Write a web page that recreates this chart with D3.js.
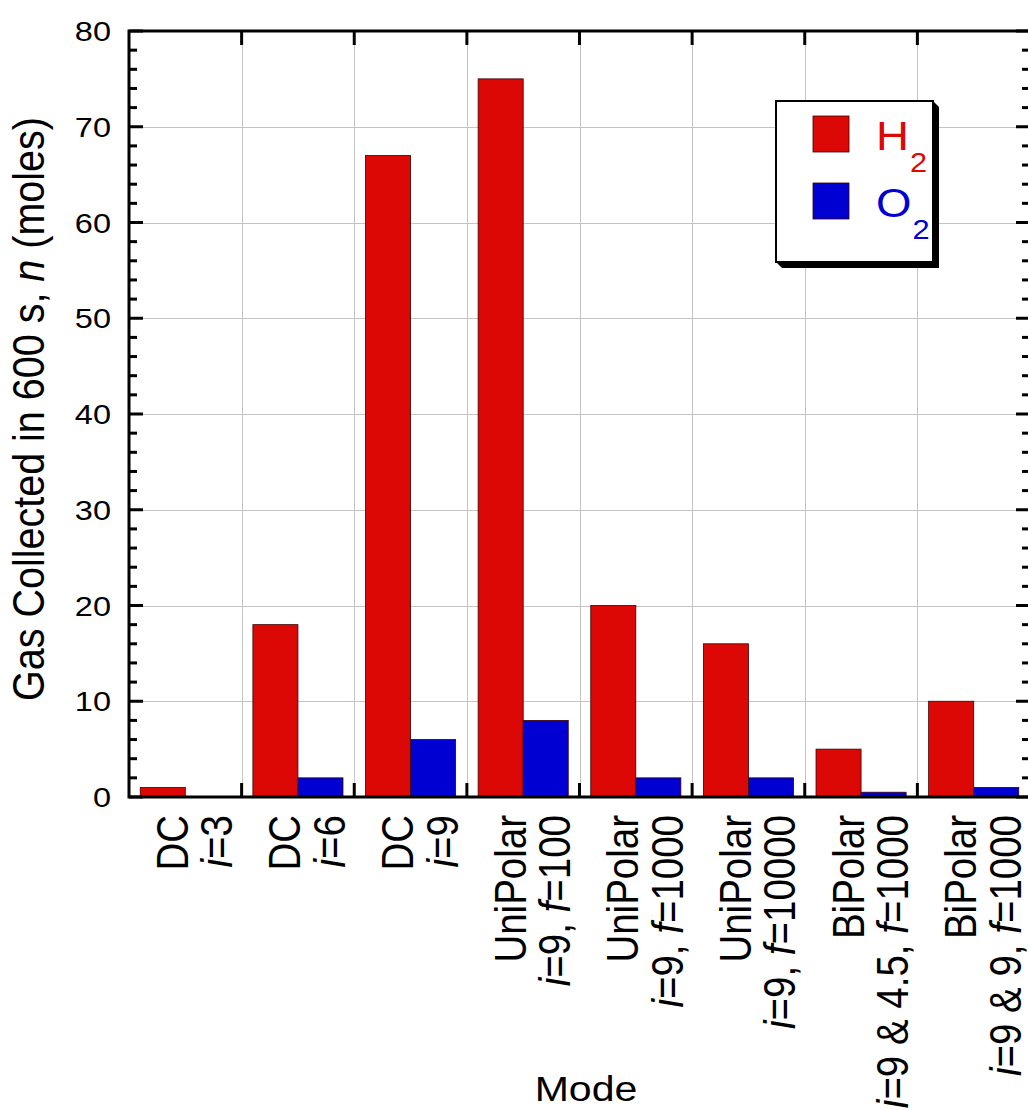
<!DOCTYPE html>
<html>
<head>
<meta charset="utf-8">
<script src="https://cdn.jsdelivr.net/npm/d3@7"></script>
<style>
  html, body { margin: 0; padding: 0; background: #fff; }
  svg { display: block; font-family: "Liberation Sans", Arial, Helvetica, sans-serif; }
</style>
</head>
<body>
<svg id="chart" width="1028" height="1110"></svg>
<script>
// Operating modes (two-line tick labels; second line split into [text, italic] runs)
const modeLine1 = ["DC", "DC", "DC", "UniPolar", "UniPolar", "UniPolar", "BiPolar", "BiPolar"];
const modeLine2 = [
  [["i", true], ["=3", false]],
  [["i", true], ["=6", false]],
  [["i", true], ["=9", false]],
  [["i", true], ["=9, ", false], ["f", true], ["=100", false]],
  [["i", true], ["=9, ", false], ["f", true], ["=1000", false]],
  [["i", true], ["=9, ", false], ["f", true], ["=10000", false]],
  [["i", true], ["=9 & 4.5, ", false], ["f", true], ["=1000", false]],
  [["i", true], ["=9 & 9, ", false], ["f", true], ["=1000", false]]
];
const modes = modeLine1.map((d, i) => "m" + i);

// Gas collected in 600 s (moles)
const h2Values = [1, 18, 67, 75, 20, 16, 5, 10];
const o2Values = [0, 2, 6, 8, 2, 2, 0.5, 1];

const seriesNames = ["H2", "O2"];
const seriesColors = ["#dc0806", "#0000d2"];

const yTicks = [0, 10, 20, 30, 40, 50, 60, 70, 80];

(function draw() {
  const svg = d3.select("#chart");
  const pL = 129, pR = 1030, pT = 31, pB = 797;
  const stretch = 1.14;   // wide glyph rendering of the original typeface

  const x = d3.scaleBand().domain(modes).range([pL, pR]).paddingInner(0).paddingOuter(0);
  const xs = d3.scaleBand().domain(seriesNames).range([0, x.bandwidth()]).paddingInner(0).paddingOuter(0.25);
  const y = d3.scaleLinear().domain([0, 80]).range([pB, pT]);

  // grid
  const grid = svg.append("g").attr("stroke", "#c4c4c4").attr("stroke-width", 1);
  grid.selectAll("line.h").data(yTicks.slice(1, -1)).join("line")
    .attr("x1", pL).attr("x2", pR)
    .attr("y1", d => Math.round(y(d)) + 0.5).attr("y2", d => Math.round(y(d)) + 0.5);
  grid.selectAll("line.v").data(modes.slice(1)).join("line")
    .attr("x1", d => Math.round(x(d)) + 0.5).attr("x2", d => Math.round(x(d)) + 0.5)
    .attr("y1", pT).attr("y2", pB);

  // bars
  const rows = modes.map((m, i) => ({ mode: m, vals: [h2Values[i], o2Values[i]] }));
  const groups = svg.append("g").selectAll("g").data(rows).join("g")
    .attr("transform", d => `translate(${x(d.mode)},0)`);
  groups.selectAll("rect").data(d => d.vals.map((v, k) => ({ v, k })).filter(e => e.v > 0)).join("rect")
    .attr("x", e => xs(seriesNames[e.k]))
    .attr("width", xs.bandwidth())
    .attr("y", e => y(e.v))
    .attr("height", e => y(0) - y(e.v))
    .attr("fill", e => seriesColors[e.k])
    .attr("stroke", "#3a0000")
    .attr("stroke-width", 0.8);

  // axes (frame with inward ticks)
  const yMinor = d3.range(0, 81, 2);
  const axG = svg.append("g").attr("stroke", "#000");
  axG.selectAll("line.yl").data(yMinor).join("line")
    .attr("x1", pL).attr("x2", d => pL + (d % 10 === 0 ? 14 : 8))
    .attr("y1", d => y(d)).attr("y2", d => y(d)).attr("stroke-width", 3);
  axG.selectAll("line.yr").data(yMinor).join("line")
    .attr("x1", pR).attr("x2", d => pR - (d % 10 === 0 ? 14 : 8))
    .attr("y1", d => y(d)).attr("y2", d => y(d)).attr("stroke-width", 3);
  axG.selectAll("line.xb").data(modes.slice(1)).join("line")
    .attr("x1", d => x(d)).attr("x2", d => x(d))
    .attr("y1", pB).attr("y2", pB - 14).attr("stroke-width", 3);
  axG.selectAll("line.xt").data(modes.slice(1)).join("line")
    .attr("x1", d => x(d)).attr("x2", d => x(d))
    .attr("y1", pT).attr("y2", pT + 14).attr("stroke-width", 3);
  svg.append("rect").attr("x", pL).attr("y", pT)
    .attr("width", pR - pL).attr("height", pB - pT)
    .attr("fill", "none").attr("stroke", "#000").attr("stroke-width", 3);

  // y tick labels
  svg.append("g").selectAll("text").data(yTicks).join("text")
    .attr("transform", d => `translate(111,${y(d) + 10}) scale(${stretch},1)`)
    .attr("text-anchor", "end").attr("font-size", 28.5).attr("fill", "#000")
    .text(d => d);

  // x tick labels (rotated, two lines)
  const xl = svg.append("g").attr("font-size", 38.5).attr("fill", "#000");
  modes.forEach((m, i) => {
    const cx = x(m) + x.bandwidth() / 2;
    xl.append("text")
      .attr("transform", `translate(${cx + 2.5},815) scale(${stretch},1) rotate(-90)`)
      .attr("text-anchor", "end").text(modeLine1[i]);
    const t = xl.append("text")
      .attr("transform", `translate(${cx + 47},815) scale(${stretch},1) rotate(-90)`)
      .attr("text-anchor", "end");
    modeLine2[i].forEach(([s, it]) => {
      t.append("tspan").attr("font-style", it ? "italic" : "normal").text(s);
    });
  });

  // axis titles
  const yt = svg.append("text")
    .attr("transform", `translate(44,409) scale(${stretch},1) rotate(-90)`)
    .attr("text-anchor", "middle").attr("font-size", 39.5).attr("fill", "#000");
  yt.append("tspan").text("Gas Collected in 600 s, ");
  yt.append("tspan").attr("font-style", "italic").text("n");
  yt.append("tspan").text(" (moles)");

  svg.append("text")
    .attr("transform", `translate(586,1101) scale(${stretch},1)`)
    .attr("text-anchor", "middle").attr("font-size", 36).attr("fill", "#000")
    .text("Mode");

  // legend
  const lg = { x0: 776, y0: 101, x1: 933, y1: 262, sh: 6 };
  const legend = svg.append("g");
  legend.append("polygon")
    .attr("points", [
      [lg.x1, lg.y0], [lg.x1 + lg.sh, lg.y0 + lg.sh], [lg.x1 + lg.sh, lg.y1 + lg.sh],
      [lg.x0 + lg.sh, lg.y1 + lg.sh], [lg.x0, lg.y1]
    ].map(p => p.join(",")).join(" "))
    .attr("fill", "#000");
  legend.append("rect")
    .attr("x", lg.x0).attr("y", lg.y0).attr("width", lg.x1 - lg.x0).attr("height", lg.y1 - lg.y0)
    .attr("fill", "#fff").attr("stroke", "#000").attr("stroke-width", 2);
  const legItems = [
    { sym: "H", color: seriesColors[0], sq: 116, base: 150 },
    { sym: "O", color: seriesColors[1], sq: 183, base: 217 }
  ];
  legItems.forEach(it => {
    legend.append("rect").attr("x", 813).attr("y", it.sq).attr("width", 36).attr("height", 36)
      .attr("fill", it.color).attr("stroke", "#3a0000").attr("stroke-width", 0.8);
    const t = legend.append("text")
      .attr("transform", `translate(876,${it.base}) scale(${stretch},1)`)
      .attr("fill", it.color).attr("font-size", 40);
    t.append("tspan").text(it.sym);
    t.append("tspan").attr("font-size", 27).attr("dy", 22).attr("dx", 1).text("2");
  });
})();
</script>
</body>
</html>
